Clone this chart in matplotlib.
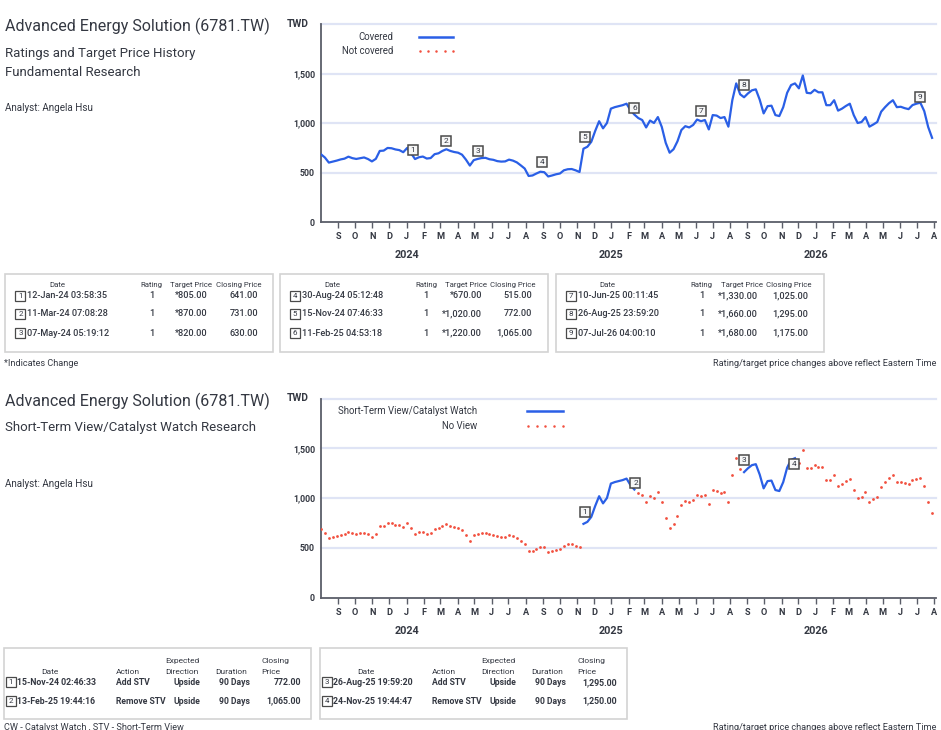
#Import needed packages
import numpy as np
import pandas as pd
import matplotlib
matplotlib.use('Agg')
import matplotlib.pyplot as plt
import matplotlib.dates as mdates
from matplotlib import transforms as mtransforms
from matplotlib.patches import Rectangle
from matplotlib.ticker import FuncFormatter

#DATA
#Weekly closing prices (TWD), first week starts 1-Aug-2023
week_start = '2023-08-01'
prices = [
    684, 651, 600, 610, 620, 632, 640, 660, 645, 637,
    644, 652, 636, 612, 638, 718, 721, 748, 745, 733,
    726, 705, 748, 695, 636, 654, 661, 641, 646, 685,
    694, 718, 735, 718, 707, 700, 680, 630, 570, 625,
    637, 646, 648, 634, 628, 615, 610, 612, 630, 620,
    602, 572, 540, 465, 470, 490, 508, 503, 460, 470,
    482, 490, 522, 533, 535, 522, 505, 740, 760, 810,
    920, 1018, 946, 1000, 1145, 1160, 1170, 1180, 1195, 1130,
    1085, 1050, 1030, 955, 1025, 1000, 1060, 960, 800, 700,
    735, 815, 929, 968, 955, 980, 1035, 1018, 1030, 935,
    1080, 1075, 1050, 1060, 963, 1230, 1400, 1290, 1260, 1299,
    1330, 1340, 1235, 1097, 1170, 1175, 1080, 1070, 1160, 1305,
    1383, 1400, 1350, 1480, 1305, 1300, 1335, 1310, 1310, 1180,
    1180, 1230, 1125, 1145, 1172, 1195, 1080, 1000, 1010, 1060,
    963, 985, 1010, 1114, 1160, 1200, 1230, 1160, 1164, 1150,
    1140, 1181, 1195, 1205, 1120, 960, 850]

#Ratings / target price history
rt_labels = ['12-Jan-24 03:58:35', '11-Mar-24 07:08:28', '07-May-24 05:19:12',
             '30-Aug-24 05:12:48', '15-Nov-24 07:46:33', '11-Feb-25 04:53:18',
             '10-Jun-25 00:11:45', '26-Aug-25 23:59:20', '07-Jul-26 04:00:10']
rt_rating = ['1', '1', '1', '1', '1', '1', '1', '1', '1']
rt_target = [805, 870, 820, 670, 1020, 1220, 1330, 1660, 1680]
rt_close = [641, 731, 630, 515, 772, 1065, 1025, 1295, 1175]

#Short-term view / catalyst watch history
stv_labels = ['15-Nov-24 02:46:33', '13-Feb-25 19:44:16',
              '26-Aug-25 19:59:20', '24-Nov-25 19:44:47']
stv_action = ['Add STV', 'Remove STV', 'Add STV', 'Remove STV']
stv_direction = ['Upside', 'Upside', 'Upside', 'Upside']
stv_duration = ['90 Days', '90 Days', '90 Days', '90 Days']
stv_close = [772, 1065, 1295, 1250]

years = [2024, 2025, 2026]

#STYLE
W, H = 941, 730
BLUE = '#2a5fe6'
RED = '#f2503f'
GRID = '#dfe4f5'
AXC = '#5b5e69'
TXT = '#343842'
BOXC = '#d3d3d3'
plt.rcParams['font.family'] = ['Roboto', 'DejaVu Sans']

dates = pd.date_range(week_start, periods=len(prices), freq='7D')
price = np.array(prices, dtype=float)
rt_dates = pd.to_datetime(rt_labels, format='%d-%b-%y %H:%M:%S').normalize()
stv_dates = pd.to_datetime(stv_labels, format='%d-%b-%y %H:%M:%S').normalize()

fig = plt.figure(figsize=(W / 100, H / 100), dpi=100)

#Page layer in pixel coordinates for texts, tables and legends
page = fig.add_axes([0, 0, 1, 1], zorder=0)
page.set_xlim(0, W)
page.set_ylim(H, 0)
page.axis('off')

def txt(x, y, s, size, ha='left', weight='normal', **kw):
    page.text(x, y, s, fontsize=size, ha=ha, va='center', color=TXT,
              fontweight=weight, **kw)

def num_box(x, y, n, size=7.4, fs=5.8):
    page.plot([x], [y], 's', ms=size, mfc='white', mec='#4a4a4a', mew=0.9)
    page.text(x, y, str(n), fontsize=fs, ha='center', va='center', color=TXT)

#Chart axes
AX_L, AX_R = 321, 936
X0 = pd.Timestamp('2023-08-01')
X1 = pd.Timestamp('2026-08-04')
month_ticks = pd.date_range('2023-09-01', '2026-08-01', freq='MS')

def price_axes(top, bottom):
    ax = fig.add_axes([AX_L / W, 1 - bottom / H, (AX_R - AX_L) / W, (bottom - top) / H],
                      zorder=1)
    ax.patch.set_alpha(0)
    ax.set_xlim(X0, X1)
    ax.set_ylim(0, 2000)
    for g in (500, 1000, 1500, 2000):
        ax.axhline(g, color=GRID, lw=1.6, zorder=0, clip_on=False)
    ax.spines[['top', 'right']].set_visible(False)
    for s in ('left', 'bottom'):
        ax.spines[s].set_color(AXC)
        ax.spines[s].set_linewidth(1.3)
    ax.set_yticks([0, 500, 1000, 1500])
    ax.set_yticklabels(['0', '500', '1,000', '1,500'])
    ax.tick_params(axis='y', length=0, pad=4.3, labelsize=6.3, labelcolor=TXT)
    ax.set_xticks(month_ticks)
    ax.xaxis.set_major_formatter(
        FuncFormatter(lambda v, p: mdates.num2date(v).strftime('%b')[0]))
    ax.tick_params(axis='x', length=4, width=1, color=AXC, pad=3.3,
                   labelsize=6.6, labelcolor=TXT)
    for lab in ax.get_xticklabels() + ax.get_yticklabels():
        lab.set_fontweight('bold')
    for yr in years:
        ax.annotate(str(yr), xy=(pd.Timestamp(f'{yr}-01-01'), 0),
                    xycoords=('data', 'axes fraction'), xytext=(0, -23.8),
                    textcoords='offset points', ha='center', va='center',
                    fontsize=7.8, fontweight='bold', color=TXT)
    return ax

def chart_boxes(ax, when, close):
    trans = mtransforms.offset_copy(ax.transData, fig=fig, x=0, y=6.5, units='points')
    ax.plot(when, close, 's', ms=7.8, mfc='#f7f7f7', mec='#4a4a4a', mew=1.1,
            transform=trans, zorder=5, clip_on=False)
    for i, (d, c) in enumerate(zip(when, close)):
        ax.text(d, c, str(i + 1), transform=trans, ha='center', va='center',
                fontsize=6, color=TXT, zorder=6)

#TOP SECTION: Ratings and Target Price History
txt(5, 26, 'Advanced Energy Solution (6781.TW)', 11.5)
txt(5, 53, 'Ratings and Target Price History', 9.5)
txt(5, 72, 'Fundamental Research', 9.5)
txt(5, 108, 'Analyst: Angela Hsu', 7.1)
txt(298, 24, 'TWD', 7.4, ha='center', weight='bold')

ax1 = price_axes(24, 222)
ax1.plot(dates, price, color=BLUE, lw=1.6, zorder=3)
chart_boxes(ax1, rt_dates, rt_close)

#Legend
txt(393, 37, 'Covered', 6.9, ha='right')
txt(393, 51, 'Not covered', 6.9, ha='right')
page.plot([419, 453], [37, 37], color=BLUE, lw=1.8)
page.plot(np.linspace(420, 453, 5), [51] * 5, 'o', ms=1.8, color=RED, mew=0)

#Rating tables
for b, left in enumerate([5.4, 280, 555.7]):
    page.add_patch(Rectangle((left, 274), 268, 78, fill=False, ec=BOXC, lw=1.2))
    txt(left + 52, 285, 'Date', 5.6, ha='center')
    txt(left + 146, 285, 'Rating', 5.6, ha='center')
    txt(left + 186, 285, 'Target Price', 5.6, ha='center')
    txt(left + 233, 285, 'Closing Price', 5.6, ha='center')
    for r, y in enumerate([296, 314, 333]):
        i = b * 3 + r
        num_box(left + 15, y, i + 1)
        txt(left + 22, y, rt_labels[i], 6.6, weight='medium')
        txt(left + 146, y, rt_rating[i], 6.6, ha='center', weight='medium')
        txt(left + 202, y, f'*{rt_target[i]:,.2f}', 6.6, ha='right', weight='medium')
        txt(left + 252.5, y, f'{rt_close[i]:,.2f}', 6.6, ha='right', weight='medium')

txt(4, 364, '*Indicates Change', 6.6)
txt(936, 364, 'Rating/target price changes above reflect Eastern Time', 6.6, ha='right')

#BOTTOM SECTION: Short-Term View / Catalyst Watch
txt(5, 401, 'Advanced Energy Solution (6781.TW)', 11.5)
txt(5, 428, 'Short-Term View/Catalyst Watch Research', 9.5)
txt(5, 484, 'Analyst: Angela Hsu', 7.1)
txt(298, 398, 'TWD', 7.4, ha='center', weight='bold')

ax2 = price_axes(398.5, 597.5)
half_week = pd.Timedelta(days=3.5)
on_view = np.zeros(len(dates), dtype=bool)
for start, end in [(stv_dates[0], stv_dates[1]), (stv_dates[2], stv_dates[3])]:
    seg = (dates >= start - half_week) & (dates <= end + half_week)
    on_view |= seg
    ax2.plot(dates[seg], price[seg], color=BLUE, lw=1.6, zorder=3)
ax2.plot(dates[~on_view], price[~on_view], 'o', ms=2.0, color=RED, mew=0, zorder=3)
chart_boxes(ax2, stv_dates, stv_close)

txt(477, 411, 'Short-Term View/Catalyst Watch', 6.9, ha='right')
txt(477, 426, 'No View', 6.9, ha='right')
page.plot([527, 563], [411, 411], color=BLUE, lw=1.8)
page.plot(np.linspace(528, 563, 5), [426] * 5, 'o', ms=1.8, color=RED, mew=0)

#STV tables
for b, left in enumerate([4, 320]):
    page.add_patch(Rectangle((left, 648.3), 307.3, 71, fill=False, ec=BOXC, lw=1.2))
    txt(left + 178, 660.7, 'Expected', 6.0, ha='center')
    txt(left + 257.5, 660.7, 'Closing', 6.0)
    txt(left + 46, 671.7, 'Date', 6.0, ha='center')
    txt(left + 124, 671.7, 'Action', 6.0, ha='center')
    txt(left + 178, 671.7, 'Direction', 6.0, ha='center')
    txt(left + 227.5, 671.7, 'Duration', 6.0, ha='center')
    txt(left + 257.5, 671.7, 'Price', 6.0)
    for r, y in enumerate([682.3, 701]):
        i = b * 2 + r
        num_box(left + 7, y, i + 1)
        txt(left + 13.5, y, stv_labels[i], 6.3, weight='bold')
        txt(left + 112, y, stv_action[i], 6.2, weight='bold')
        txt(left + 196, y, stv_direction[i], 6.2, ha='right', weight='bold')
        txt(left + 246.5, y, stv_duration[i], 6.2, ha='right', weight='bold')
        txt(left + 297, y, f'{stv_close[i]:,.2f}', 6.3, ha='right', weight='bold')

txt(4, 727, 'CW - Catalyst Watch , STV - Short-Term View', 6.6)
txt(936, 727, 'Rating/target price changes above reflect Eastern Time', 6.6, ha='right')

fig.savefig('out.png', dpi=100, facecolor='white')
